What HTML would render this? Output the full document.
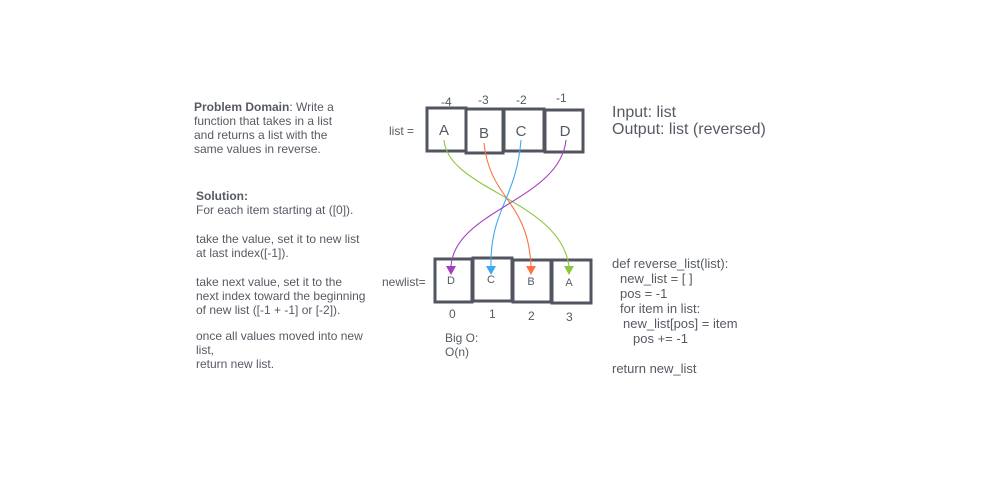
<!DOCTYPE html>
<html><head><meta charset="utf-8"><style>
html,body{margin:0;padding:0;background:#fff;}
svg{display:block;font-family:"Liberation Sans",sans-serif;}
</style></head><body>
<svg width="1007" height="478" viewBox="0 0 1007 478" xmlns="http://www.w3.org/2000/svg">
<g fill="#555a63" font-size="12">
<text x="194" y="111"><tspan font-weight="bold">Problem Domain</tspan>: Write a</text>
<text x="194" y="125">function that takes in a list</text>
<text x="194" y="139">and returns a list with the</text>
<text x="194" y="153">same values in reverse.</text>
<text x="196" y="200" font-weight="bold">Solution:</text>
<text x="196" y="214">For each item starting at ([0]).</text>
<text x="196" y="243">take the value, set it to new list</text>
<text x="196" y="257">at last index([-1]).</text>
<text x="196" y="286">take next value, set it to the</text>
<text x="196" y="300">next index toward the beginning</text>
<text x="196" y="314">of new list ([-1 + -1] or [-2]).</text>
<text x="196" y="340">once all values moved into new</text>
<text x="196" y="354">list,</text>
<text x="196" y="368">return new list.</text>

<text x="389" y="135">list =</text>
<text x="382" y="286">newlist=</text>
<text x="441" y="106">-4</text><text x="478" y="104">-3</text><text x="516" y="104">-2</text><text x="556" y="102">-1</text>
<text x="449" y="318">0</text><text x="489" y="318">1</text><text x="528" y="320">2</text><text x="566" y="321">3</text>
<text x="445" y="342">Big O:</text>
<text x="445" y="356">O(n)</text>

<text x="612" y="268" font-size="13">def reverse_list(list):</text>
<text x="620" y="283" font-size="13">new_list = [ ]</text>
<text x="620" y="298" font-size="13">pos = -1</text>
<text x="620" y="313" font-size="13">for item in list:</text>
<text x="623" y="328" font-size="13">new_list[pos] = item</text>
<text x="633" y="343" font-size="13">pos += -1</text>
<text x="612" y="373" font-size="13">return new_list</text>
</g>
<g fill="#555a63" font-size="16">
<text x="612" y="117">Input: list</text>
<text x="612" y="134">Output: list (reversed)</text>
</g>
<g fill="none" stroke="#50555f" stroke-width="3">
<rect x="427" y="108" width="39" height="43"/>
<rect x="466" y="109" width="37" height="44"/>
<rect x="504" y="109" width="40" height="42"/>
<rect x="545" y="110" width="38" height="42"/>
<rect x="435" y="259" width="37" height="43"/>
<rect x="473" y="258" width="39" height="43"/>
<rect x="513" y="260" width="38" height="42"/>
<rect x="552" y="260" width="39" height="43"/>
</g>
<g fill="#555a63" font-size="15" text-anchor="middle">
<text x="444" y="135">A</text><text x="484" y="138">B</text><text x="521" y="136">C</text><text x="565" y="136">D</text>
</g>
<g fill="#555a63" font-size="11" text-anchor="middle">
<text x="451" y="284">D</text><text x="491" y="283">C</text><text x="531" y="285">B</text><text x="569" y="286">A</text>
</g>
<g fill="none" stroke-width="1.1">
<path d="M444,140 C448,190 560,200 569,266" stroke="#8cc63e"/>
<path d="M484,143 C490,200 528,200 531,266" stroke="#ff7043"/>
<path d="M521,140 C516,200 490,210 491,266" stroke="#3fa9f5"/>
<path d="M566,140 C560,200 455,210 451,266" stroke="#a23fbd"/>
</g>
<path d="M446,266 L456,266 L451,275 z" fill="#a23fbd"/>
<path d="M486,266 L496,266 L491,275 z" fill="#3fa9f5"/>
<path d="M526,266 L536,266 L531,275 z" fill="#ff7043"/>
<path d="M564,266 L574,266 L569,275 z" fill="#8cc63e"/>
</svg>
</body></html>
